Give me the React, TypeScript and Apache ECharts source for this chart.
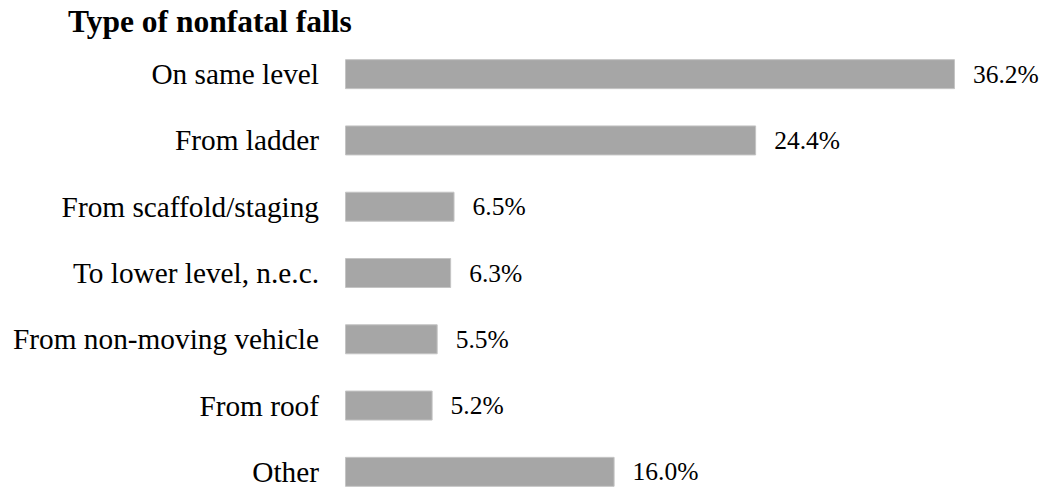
import React, { useEffect, useRef } from "react";
import * as echarts from "echarts";

const title = "Type of nonfatal falls";
const categories = [
  "On same level",
  "From ladder",
  "From scaffold/staging",
  "To lower level, n.e.c.",
  "From non-moving vehicle",
  "From roof",
  "Other",
];
const values = [36.2, 24.4, 6.5, 6.3, 5.5, 5.2, 16.0];

export default function App() {
  const ref = useRef<HTMLDivElement>(null);
  useEffect(() => {
    if (!ref.current) return;
    const chart = echarts.init(ref.current, null, { renderer: "svg" });
    const serif = "'Liberation Serif', 'Times New Roman', serif";
    chart.setOption({
      animation: false,
      backgroundColor: "#ffffff",
      title: {
        text: title,
        left: 68,
        top: 5,
        padding: 0,
        textStyle: {
          fontFamily: serif,
          fontWeight: "bold",
          fontSize: 31.5,
          lineHeight: 32,
          color: "#000000",
        },
      },
      grid: { left: 345, top: 41, width: 674, height: 464 },
      xAxis: {
        type: "value",
        min: 0,
        max: 40,
        show: false,
      },
      yAxis: {
        type: "category",
        data: categories,
        inverse: true,
        axisLine: { show: false },
        axisTick: { show: false },
        splitLine: { show: false },
        axisLabel: {
          margin: 26,
          fontFamily: serif,
          fontSize: 29.3,
          color: "#000000",
        },
      },
      series: [
        {
          type: "bar",
          data: values,
          barWidth: 30,
          itemStyle: {
            color: "#a6a6a6",
            borderColor: "#c4c4c4",
            borderWidth: 1,
          },
          label: {
            show: true,
            position: "right",
            distance: 18,
            fontFamily: serif,
            fontSize: 25.5,
            color: "#000000",
            formatter: (p: any) => p.value.toFixed(1) + "%",
          },
        },
      ],
    });
    return () => chart.dispose();
  }, []);
  return (
    <div
      style={{
        position: "fixed",
        left: 0,
        top: 0,
        width: 1047,
        height: 489,
        overflow: "hidden",
      }}
    >
      <div ref={ref} style={{ width: 1047, height: 530 }} />
    </div>
  );
}
